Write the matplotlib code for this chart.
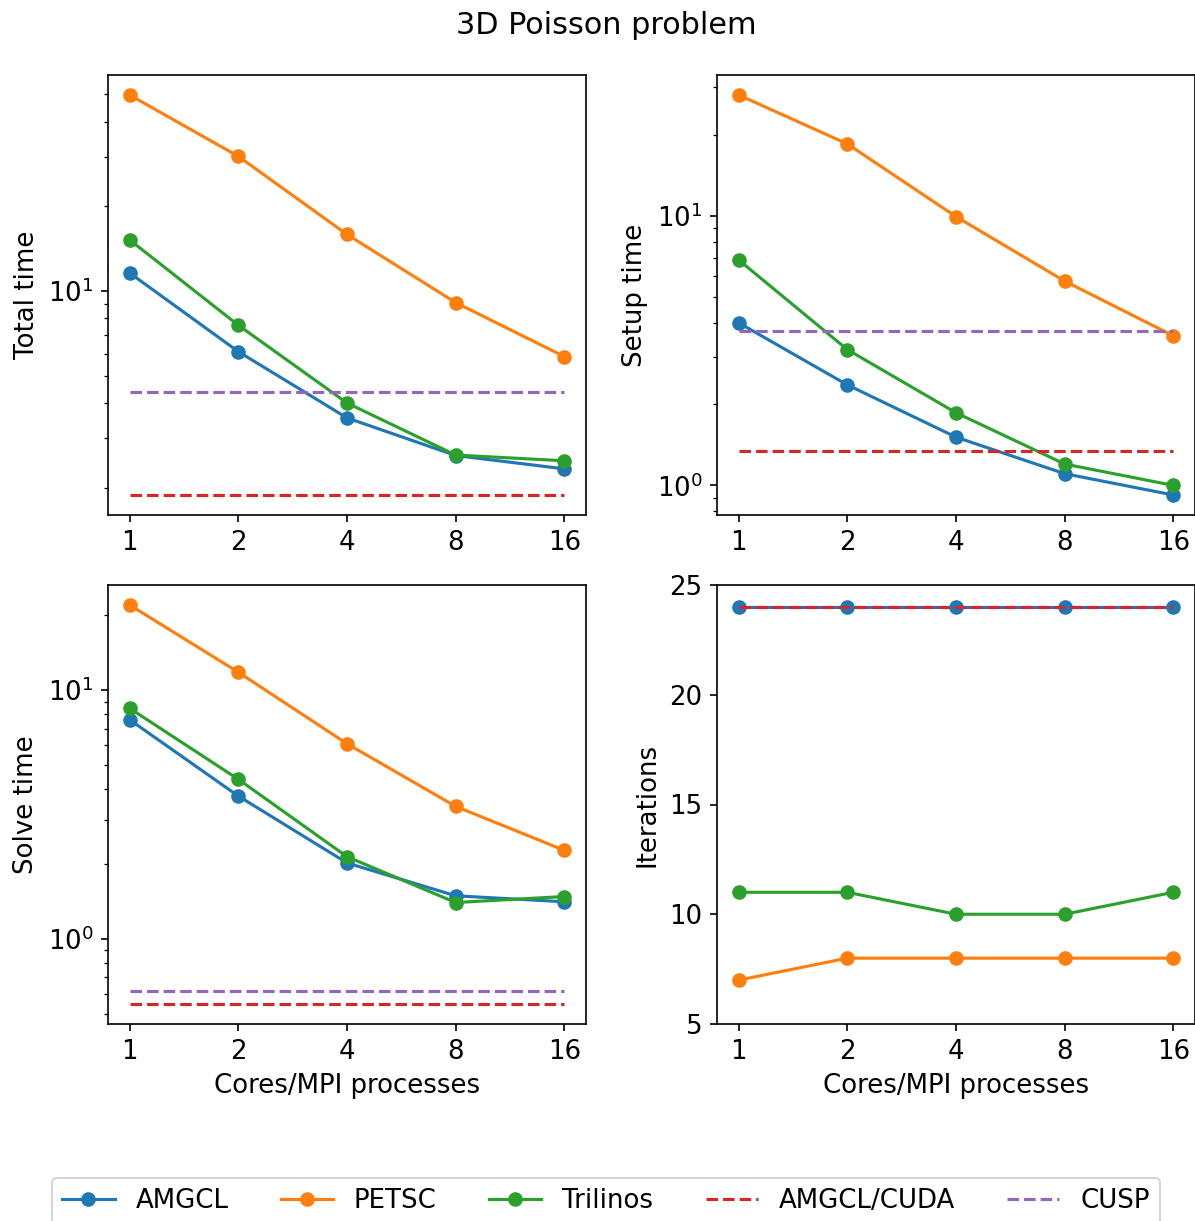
import matplotlib
matplotlib.use("Agg")
import matplotlib.pyplot as plt
from matplotlib.ticker import NullLocator, FixedLocator

plt.rcParams['font.size'] = 12.5

cores = [1, 2, 4, 8, 16]
tick_labels = ["1", "2", "4", "8", "16"]

total_amgcl = [11.6, 6.10, 3.55, 2.61, 2.34]
total_petsc = [49.7, 30.1, 15.9, 9.11, 5.86]
total_trilinos = [15.2, 7.57, 4.01, 2.62, 2.50]
total_cuda = 1.89
total_cusp = 4.38

setup_amgcl = [4.01, 2.36, 1.51, 1.105, 0.921]
setup_petsc = [28.1, 18.5, 9.94, 5.73, 3.59]
setup_trilinos = [6.86, 3.19, 1.86, 1.20, 1.00]
setup_cuda = 1.34
setup_cusp = 3.75

solve_amgcl = [7.60, 3.75, 2.02, 1.49, 1.41]
solve_petsc = [22.0, 11.8, 6.09, 3.41, 2.27]
solve_trilinos = [8.45, 4.38, 2.14, 1.40, 1.48]
solve_cuda = 0.547
solve_cusp = 0.618

iters_amgcl = [24, 24, 24, 24, 24]
iters_petsc = [7, 8, 8, 8, 8]
iters_trilinos = [11, 11, 10, 10, 11]
iters_cuda = 24

W, H = 1195, 1221
fig = plt.figure(figsize=(W / 150, H / 150), dpi=150)

def px_axes(l, t, r, b):
    return fig.add_axes([l / W, 1 - b / H, (r - l) / W, (b - t) / H])

ax_tot = px_axes(108, 75, 586, 515)
ax_set = px_axes(717, 75, 1195, 515)
ax_sol = px_axes(108, 585, 586, 1024)
ax_it = px_axes(717, 585, 1195, 1024)

def draw(ax, amgcl, petsc, tril, cuda, cusp, ylabel, log=True):
    ax.plot(cores, amgcl, 'o-', color='C0', label='AMGCL')
    ax.plot(cores, petsc, 'o-', color='C1', label='PETSC')
    ax.plot(cores, tril, 'o-', color='C2', label='Trilinos')
    ax.plot(cores, [cuda] * len(cores), '--', color='C3', label='AMGCL/CUDA')
    if cusp is not None:
        ax.plot(cores, [cusp] * len(cores), '--', color='C4', label='CUSP')
    ax.set_xscale('log', base=2)
    ax.xaxis.set_major_locator(FixedLocator(cores))
    ax.set_xticklabels(tick_labels)
    ax.xaxis.set_minor_locator(NullLocator())
    if log:
        ax.set_yscale('log')
    ax.set_ylabel(ylabel)

draw(ax_tot, total_amgcl, total_petsc, total_trilinos, total_cuda, total_cusp, 'Total time')
draw(ax_set, setup_amgcl, setup_petsc, setup_trilinos, setup_cuda, setup_cusp, 'Setup time')
draw(ax_sol, solve_amgcl, solve_petsc, solve_trilinos, solve_cuda, solve_cusp, 'Solve time')
draw(ax_it, iters_amgcl, iters_petsc, iters_trilinos, iters_cuda, None, 'Iterations', log=False)
ax_it.set_ylim(5, 25)
ax_it.set_yticks([5, 10, 15, 20, 25])

ax_sol.set_xlabel('Cores/MPI processes')
ax_it.set_xlabel('Cores/MPI processes')

fig.suptitle('3D Poisson problem', x=606 / W, y=1 - 11 / H, va='top', fontsize=14.5)

handles, labels = ax_tot.get_legend_handles_labels()
fig.legend(handles, labels, ncol=5, mode='expand', loc='upper left',
           bbox_to_anchor=(52 / W, 1 - 1178 / H, 1108 / W, 0), borderaxespad=0)

fig.savefig('out.png', dpi=150)
